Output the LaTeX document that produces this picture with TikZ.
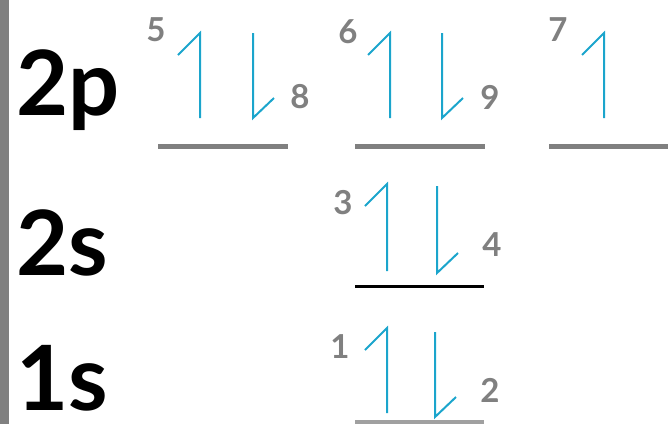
\documentclass[tikz,border=0pt]{standalone}
\usepackage{fontspec}
\setmainfont{Lato}
\usepackage{xcolor}
\definecolor{spinblue}{HTML}{1BA5CC}
\definecolor{lvlgray}{HTML}{808080}

\begin{document}
\begin{tikzpicture}[
   x=1pt, y=-1pt,
   shell/.style={font=\fontsize{90}{90}\selectfont\bfseries, anchor=base west, inner sep=0pt, text depth=0pt},
   count/.style={font=\fontsize{33}{33}\selectfont\bfseries, text=lvlgray, inner sep=0pt},
   level/.style={line width=5pt, lvlgray},
   spin/.style={line width=2pt, spinblue},
   ]
   \useasboundingbox (0,0) rectangle (668,424);
   \fill[lvlgray] (0,0) rectangle (9,424);

   % shell names
   \node[shell] (s2p) at (16,115) {2p};
   \node[shell] (s2s) at (16,275) {2s};
   \node[shell] (s1s) at (16,410) {1s};

   % energy levels
   \foreach \n/\x/\y in {p1/158/146, p2/355/146, p3/549/146}{
      \coordinate (\n-w) at (\x,\y);
      \coordinate (\n-e) at (\x+130,\y);
      \draw[level] (\n-w) -- (\n-e);
   }
   \coordinate (s2-w) at (355,286);
   \coordinate (s2-e) at (484,286);
   \draw[line width=3pt, black] (s2-w) -- (s2-e);
   \coordinate (s1-w) at (355,422);
   \coordinate (s1-e) at (484,422);
   \draw[line width=4pt, lvlgray!75] (s1-w) -- (s1-e);

   % spin up
   \foreach \x/\t/\b in {200/33/118, 390/33/118, 604/33/118, 387/184/271, 387/328/413}
   \draw[spin] (\x-22,\t+22) -- (\x,\t) -- (\x,\b);

   % spin down
   \foreach \x/\t/\b in {253/33/118, 442/33/118, 437/186/273, 435/332/417}
   \draw[spin] (\x,\t) -- (\x,\b) -- (\x+21,\b-20);

   % filling order
   \foreach \i/\x/\y in {1/340/347, 2/490/390, 3/343/203, 4/492/245, 5/156/30,
                         6/348/32, 7/558/30, 8/300/97, 9/490/97}
   \node[count] (n\i) at (\x,\y) {\i};
\end{tikzpicture}
\end{document}
